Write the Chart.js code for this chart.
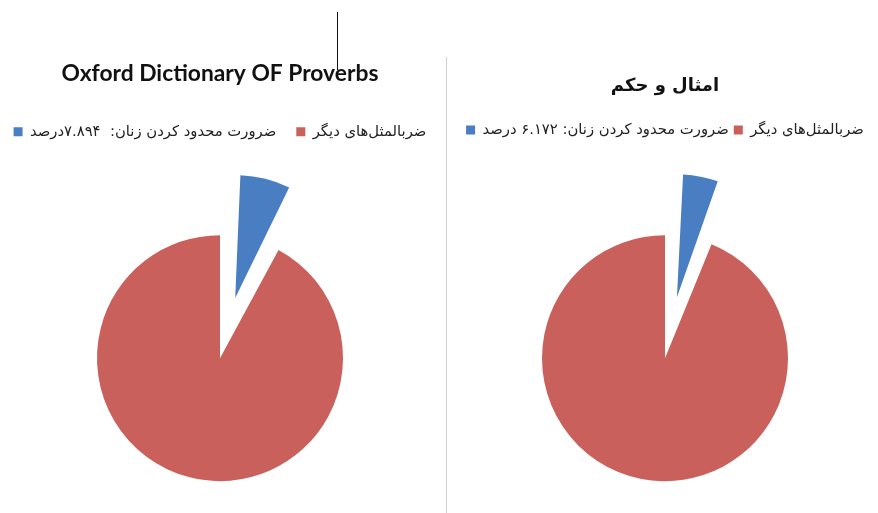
<!DOCTYPE html>
<html>
<head>
<meta charset="utf-8">
<script src="https://cdn.jsdelivr.net/npm/chart.js@4"></script>
<style>
  body { margin: 0; background: #fff; overflow: hidden; }
  #wrap { position: relative; width: 878px; height: 513px; overflow: hidden; }
  #c1 { position: absolute; left: -20px; top: 0; }
  #c2 { position: absolute; left: 447px; top: 0; }
  .divider { position: absolute; left: 446px; top: 57px; width: 1px; height: 456px; background: #cfcfcf; }
  .cursor { position: absolute; left: 337px; top: 12px; width: 1px; height: 58px; background: #111; }
</style>
</head>
<body>
<div id="wrap">
  <canvas id="c1" width="480" height="600"></canvas>
  <canvas id="c2" width="431" height="600"></canvas>
  <div class="divider"></div>
  <div class="cursor"></div>
</div>
<script>
// داده‌ها
const titleLeft = 'Oxford Dictionary OF Proverbs';
const titleRight = 'امثال و حکم';
const labelsLeft = ['ضرورت محدود کردن زنان:  ۷.۸۹۴درصد', 'ضربالمثل‌های دیگر'];
const labelsRight = ['ضرورت محدود کردن زنان: ۶.۱۷۲ درصد', 'ضربالمثل‌های دیگر'];
const valuesLeft = [7.894, 92.106];
const valuesRight = [6.172, 93.828];
const colors = ['#4A7EC3', '#C9605C'];

const RADIUS = 123;
const EXPLODE = 62; // فاصله‌ی برش جدا شده

// Chart.js با offset شعاع برش را هم بزرگ می‌کند؛ اینجا برمی‌گردانیم
const explodeFix = {
    id: 'explodeFix',
    beforeDatasetsDraw(chart) {
        const meta = chart.getDatasetMeta(0);
        const r = meta.controller.outerRadius;
        meta.data.forEach(arc => {
            const off = (arc.options.offset || 0) / 4;
            const circ = arc.endAngle - arc.startAngle;
            const fix = 1 - Math.sin(Math.min(Math.PI, circ));
            arc.outerRadius = r - off * fix;
        });
    }
};

function makePie(id, title, titleFont, titlePad, labels, values, legendPad, layoutPad) {
    const ctx = document.getElementById(id).getContext('2d');
    return new Chart(ctx, {
        type: 'pie',
        data: {
            labels: labels,
            datasets: [{
                data: values,
                backgroundColor: colors,
                borderWidth: 0,
                offset: [EXPLODE * 4, 0]
            }]
        },
        options: {
            responsive: false,
            animation: false,
            radius: RADIUS,
            layout: { padding: layoutPad },
            plugins: {
                title: {
                    display: true,
                    text: title,
                    color: '#111',
                    font: titleFont,
                    padding: titlePad
                },
                legend: {
                    display: true,
                    position: 'top',
                    labels: {
                        boxWidth: 9,
                        boxHeight: 9,
                        padding: legendPad,
                        color: '#222',
                        font: { family: 'DejaVu Sans', size: 14.8 }
                    }
                },
                tooltip: { enabled: false }
            }
        },
        plugins: [explodeFix]
    });
}

makePie('c1', titleLeft, { family: 'Lato', size: 22.8, weight: 'bold' },
    { top: 59.5, bottom: 17.6 }, labelsLeft, valuesLeft, 20,
    { top: 0, bottom: 33, left: 0, right: 0 });

makePie('c2', titleRight, { family: 'DejaVu Sans', size: 18, weight: 'bold' },
    { top: 76, bottom: 20 }, labelsRight, valuesRight, 5,
    { top: 0, bottom: 31, left: 5, right: 0 });
</script>
</body>
</html>
